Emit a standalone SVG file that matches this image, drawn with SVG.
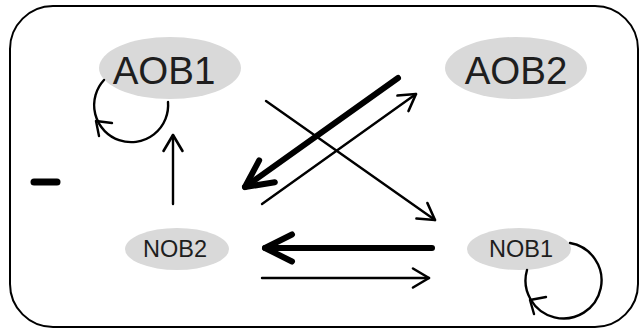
<svg xmlns="http://www.w3.org/2000/svg" width="641" height="329" viewBox="0 0 641 329">
<defs>
<style>
.node ellipse{fill:#d9d9d9;stroke:none}
.lbl{font-family:"Liberation Sans",Arial,sans-serif;fill:#1e1e1e;text-anchor:middle}
.big{font-size:38.5px}
.small{font-size:23.5px}
.thin{stroke:#000;stroke-width:2.4;fill:none;stroke-linecap:round}
.thick{stroke:#000;stroke-width:6;fill:none;stroke-linecap:round}
</style>
<marker id="ah" viewBox="-22 -14 26 28" refX="0" refY="0" markerWidth="26" markerHeight="28" markerUnits="userSpaceOnUse" orient="auto">
<path d="M-16,-9.5 L0,0 L-16,9.5" fill="none" stroke="#000" stroke-width="2.6" stroke-linecap="round" stroke-linejoin="round"/>
</marker>
<marker id="ahb" viewBox="-36 -20 42 40" refX="0" refY="0" markerWidth="42" markerHeight="40" markerUnits="userSpaceOnUse" orient="auto">
<path d="M-27,-13.5 L0,0 L-27,13.5" fill="none" stroke="#000" stroke-width="6" stroke-linecap="round" stroke-linejoin="round"/>
</marker>
</defs>
<rect x="10" y="6" width="628" height="321" rx="43" ry="43" fill="#fff" stroke="#000" stroke-width="2"/>
<g id="AOB1" class="node"><ellipse cx="170" cy="68" rx="71" ry="31"/><text class="lbl big" x="164" y="84">AOB1</text></g>
<g id="AOB2" class="node"><ellipse cx="516" cy="68" rx="71" ry="31"/><text class="lbl big" x="516" y="84">AOB2</text></g>
<g id="NOB2" class="node"><ellipse cx="177" cy="249" rx="52" ry="21"/><text class="lbl small" x="175" y="257">NOB2</text></g>
<g id="NOB1" class="node"><ellipse cx="519" cy="249" rx="52" ry="21"/><text class="lbl small" x="521" y="257">NOB1</text></g>
<g id="minus"><line x1="34" y1="182" x2="57" y2="182" stroke="#000" stroke-width="7" stroke-linecap="round"/></g>
<g id="connectors">
<path class="thin" d="M168,102 A37,37 0 1,1 104,80"/>
<polyline class="thin" stroke-linejoin="round" points="112,123 96,121 99,136"/>
<path class="thin" d="M570,243 A38,38 0 1,1 527,270"/>
<polyline class="thin" stroke-linejoin="round" points="546,297 530,300 534,314"/>
<line class="thin" x1="173" y1="204" x2="173" y2="135" marker-end="url(#ah)"/>
<line class="thick" x1="398" y1="78" x2="245" y2="187" marker-end="url(#ahb)"/>
<line class="thin" x1="262" y1="204" x2="416" y2="94" marker-end="url(#ah)"/>
<line class="thin" x1="266" y1="101" x2="435" y2="220" marker-end="url(#ah)"/>
<line class="thick" x1="432" y1="248" x2="265" y2="248" marker-end="url(#ahb)"/>
<line class="thin" x1="262" y1="278" x2="429" y2="278" marker-end="url(#ah)"/>
</g>
</svg>
